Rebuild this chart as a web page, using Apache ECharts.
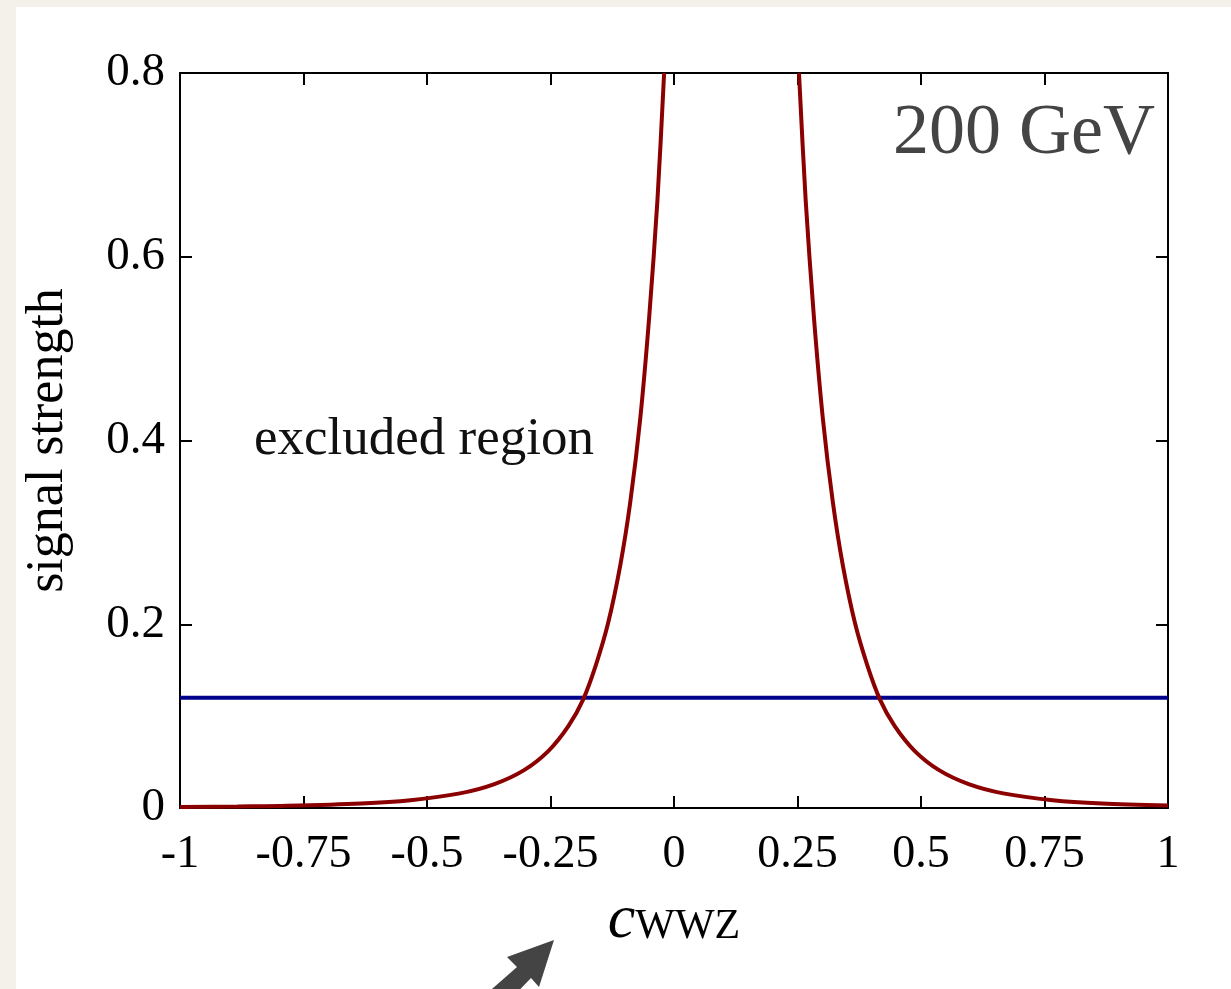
<!DOCTYPE html>
<html>
<head>
<meta charset="utf-8">
<script src="https://cdn.jsdelivr.net/npm/echarts@6/dist/echarts.min.js"></script>
<style>
html,body{margin:0;padding:0;background:#f4f0ea;}
#chart{width:1231px;height:989px;}
</style>
</head>
<body>
<div id="chart"></div>
<script>
// c_WWZ values and signal strength (left and right branches)
const leftC = [-1.0, -0.8835, -0.7835, -0.6335, -0.5335, -0.4335, -0.3635, -0.3035, -0.2535, -0.2135, -0.184, -0.1585, -0.1335, -0.1085, -0.0885, -0.0685, -0.05, -0.0335, -0.02];
const leftS = [0.0010, 0.0017, 0.0024, 0.0049, 0.0085, 0.0159, 0.0260, 0.0412, 0.0625, 0.0893, 0.118, 0.155, 0.201, 0.265, 0.333, 0.423, 0.536, 0.662, 0.800];
const rightC = [0.253, 0.2665, 0.283, 0.3015, 0.3215, 0.3415, 0.3665, 0.3915, 0.417, 0.4465, 0.4865, 0.5365, 0.5965, 0.6665, 0.7665, 0.8665, 1.0];
const rightS = [0.800, 0.662, 0.536, 0.423, 0.333, 0.265, 0.201, 0.155, 0.118, 0.0893, 0.0625, 0.0412, 0.0260, 0.0159, 0.0085, 0.0049, 0.0026];
// exclusion limit (horizontal line)
const limitC = [-1, 1];
const limitS = [0.12, 0.12];
const xTicks = [-1, -0.75, -0.5, -0.25, 0, 0.25, 0.5, 0.75, 1];
const yTicks = [0, 0.2, 0.4, 0.6, 0.8];

const zip = (a, b) => a.map((v, i) => [v, b[i]]);

const serif = 'Liberation Serif';
const chart = echarts.init(document.getElementById('chart'), null, {renderer: 'canvas'});

const fmtX = v => (Math.abs(v) < 1e-9 ? '0' : String(v));
const fmtY = v => (Math.abs(v) < 1e-9 ? '0' : v.toFixed(1));

const lineAxis = {show: true, onZero: false, lineStyle: {color: '#000', width: 2}};
const tickAxis = {show: true, inside: true, length: 12, lineStyle: {color: '#000', width: 2}};

chart.setOption({
  backgroundColor: '#f4f0ea',
  animation: false,
  grid: {left: 180, right: 63, top: 73, bottom: 181, show: false},
  graphic: [
    {type: 'rect', z: -10, silent: true, shape: {x: 16, y: 7, width: 1231, height: 1000}, style: {fill: '#ffffff'}},
    {type: 'text', z: 10, x: 1155, y: 134, style: {text: '200 GeV', font: '72px "Liberation Serif"', fill: '#444444', align: 'right', verticalAlign: 'middle'}},
    {type: 'text', z: 10, x: 254, y: 440, style: {text: 'excluded region', font: '53px "Liberation Serif"', fill: '#111111', align: 'left', verticalAlign: 'middle'}},
    {type: 'polygon', z: 10, shape: {points: [[554, 940], [507, 957], [517, 967], [484, 996], [500, 1010], [531, 978], [539, 987]]}, style: {fill: '#444444'}}
  ],
  xAxis: [
    {
      type: 'value', min: -1, max: 1, interval: 0.25, position: 'bottom',
      axisLine: lineAxis, axisTick: tickAxis,
      axisLabel: {show: true, color: '#000', fontFamily: serif, fontSize: 46, margin: 24, formatter: fmtX},
      splitLine: {show: false},
      name: '{c|c}{s|WWZ}',
      nameLocation: 'middle', nameGap: 82,
      nameTextStyle: {
        rich: {
          c: {fontFamily: serif, fontStyle: 'italic', fontSize: 62, color: '#000'},
          s: {fontFamily: serif, fontSize: 42, color: '#000', padding: [12, 0, 0, 0]}
        }
      }
    },
    {
      type: 'value', min: -1, max: 1, interval: 0.25, position: 'top',
      axisLine: lineAxis, axisTick: tickAxis,
      axisLabel: {show: false}, splitLine: {show: false}
    }
  ],
  yAxis: [
    {
      type: 'value', min: 0, max: 0.8, interval: 0.2, position: 'left',
      axisLine: lineAxis, axisTick: tickAxis,
      axisLabel: {show: true, color: '#000', fontFamily: serif, fontSize: 47, margin: 15, formatter: fmtY},
      splitLine: {show: false},
      name: 'signal strength', nameLocation: 'middle', nameGap: 106, nameRotate: 90,
      nameTextStyle: {fontFamily: serif, fontSize: 52, color: '#000'}
    },
    {
      type: 'value', min: 0, max: 0.8, interval: 0.2, position: 'right',
      axisLine: lineAxis, axisTick: tickAxis,
      axisLabel: {show: false}, splitLine: {show: false}
    }
  ],
  series: [
    {
      type: 'line', name: 'limit', data: zip(limitC, limitS), showSymbol: false,
      lineStyle: {color: '#00008b', width: 4}, z: 3, silent: true
    },
    {
      type: 'line', name: 'signal left', data: zip(leftC, leftS), showSymbol: false,
      smooth: 0.3, clip: true,
      lineStyle: {color: '#8b0000', width: 4}, z: 4, silent: true
    },
    {
      type: 'line', name: 'signal right', data: zip(rightC, rightS), showSymbol: false,
      smooth: 0.3, clip: true,
      lineStyle: {color: '#8b0000', width: 4}, z: 4, silent: true
    }
  ]
});
</script>
</body>
</html>
